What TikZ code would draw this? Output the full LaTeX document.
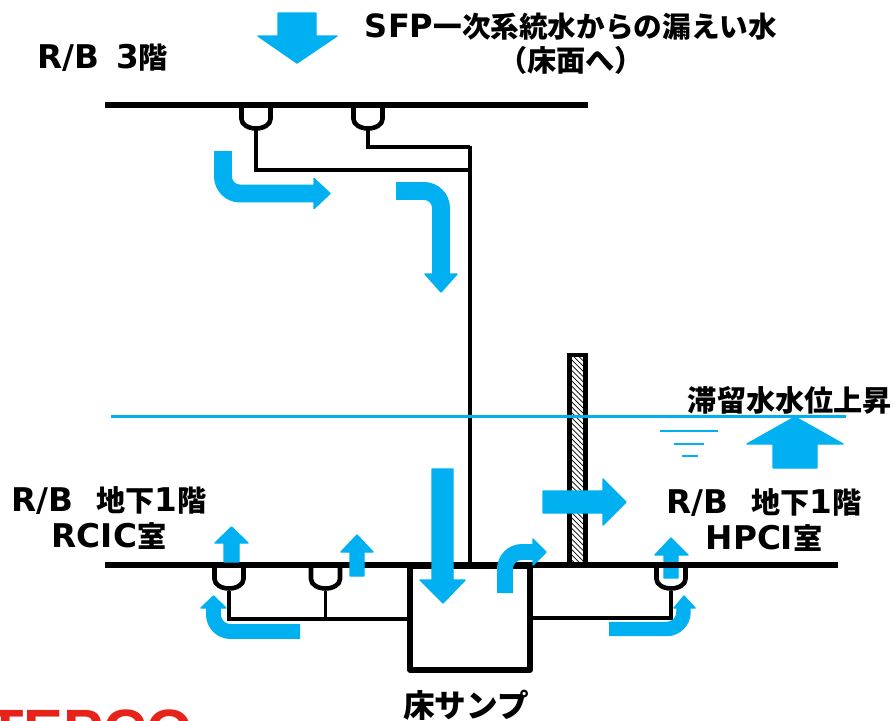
\documentclass[tikz,border=0pt]{standalone}
\usepackage{fontspec}
\setmainfont{DejaVu Sans}[Scale=1.12]
\newfontfamily\jafont{Noto Sans CJK JP}
\newfontfamily\logofont{Liberation Sans}
\usepackage{tikz}
\usetikzlibrary{patterns}
\definecolor{flowblue}{HTML}{00B0F0}
\definecolor{logored}{HTML}{E5231B}
\tikzset{
	floorline/.style={line width=3.4pt, color=black},
	pipeline/.style={line width=2pt, color=black},
	bowlline/.style={line width=2.6pt, color=black},
	waterline/.style={line width=1.7pt, color=flowblue},
	flowblock/.style={draw=flowblue, fill=flowblue, line width=0.8pt, line join=round},
	flowbend/.style={draw=flowblue, line width=#1*0.567pt, rounded corners=0.34cm},
	label/.style={font=\bfseries\fontsize{16.6}{20.4}\selectfont, align=center, inner sep=0pt},
}
\def\drainbowl(#1,#2){\draw[bowlline] ({#1-14.5},#2) -- ({#1-14.5},{#2+14}) arc (180:0:14.5 and 9.5) -- ({#1+14.5},#2);}
\begin{document}
\begin{tikzpicture}[x=0.02cm, y=-0.02cm]
	%%%%% START %%%%%
	\useasboundingbox (0, 0) rectangle (894, 721);

	% upper floor and its pipes
	\draw[floorline] (105, 105) -- (588, 105);
	\drainbowl(256, 105);
	\drainbowl(368, 105);
	\draw[pipeline] (256, 130) -- (256, 170) -- (470, 170);
	\draw[pipeline] (368, 130) -- (368, 147) -- (470, 147);
	\draw[pipeline] (470, 146) -- (470, 565);

	% wall
	\draw[line width=2.8pt, pattern=north west lines, pattern color=black] (577.5-8, 355) rectangle (577.5+8, 565);

	% arrow behind the floor
	\draw[flowblock] (664, 578) -- (664, 555) -- (655, 555) -- (671, 538) -- (688, 555) -- (678, 555) -- (678, 578) -- cycle;

	% lower floor, sump and pipes
	\draw[floorline] (105, 565) -- (838, 565);
	\draw[line width=3pt, line join=round] (410, 565) -- (410, 670) -- (530, 670) -- (530, 565);
	\draw[line width=3pt] (410, 566) -- (530, 566);
	\drainbowl(229, 565);
	\drainbowl(325.5, 565);
	\drainbowl(671, 565);
	\draw[pipeline] (229, 591) -- (229, 619) -- (410, 619);
	\draw[pipeline] (325.5, 591) -- (325.5, 619);
	\draw[pipeline] (530, 618) -- (671, 618) -- (671, 591);

	% water level
	\draw[waterline] (111, 416.5) -- (846, 416.5);
	\draw[line width=1.1pt, color=flowblue] (660, 431) -- (718, 431);
	\draw[line width=1.1pt, color=flowblue] (674, 444) -- (704, 444);
	\draw[line width=1.1pt, color=flowblue] (682, 456) -- (698, 456);

	% straight arrows
	\draw[flowblock] (278, 13) -- (278, 36) -- (258, 36) -- (297, 63) -- (337, 36) -- (316, 36) -- (316, 13) -- cycle;
	\draw[flowblock] (773, 468) -- (773, 444) -- (747, 444) -- (795, 417) -- (843, 444) -- (817, 444) -- (817, 468) -- cycle;
	\draw[flowblock] (432, 469) -- (432, 580) -- (420, 580) -- (443, 603) -- (465, 580) -- (453, 580) -- (453, 469) -- cycle;
	\draw[flowblock] (543, 491) -- (603, 491) -- (603, 479) -- (626, 502) -- (603, 525) -- (603, 513) -- (543, 513) -- cycle;
	\draw[flowblock] (224, 562) -- (224, 543) -- (215, 543) -- (231.5, 527) -- (248, 543) -- (239, 543) -- (239, 562) -- cycle;
	\draw[flowblock] (350, 576) -- (350, 552) -- (341, 552) -- (357, 535) -- (373, 552) -- (364, 552) -- (364, 576) -- cycle;

	% bent arrows
	\draw[flowbend=18] (223, 151) -- (223, 193.5) -- (314, 193.5);
	\draw[flowblock] (314, 178.5) -- (330, 193.5) -- (314, 208.5) -- cycle;
	\draw[flowbend=18] (396, 191) -- (441, 191) -- (441, 274);
	\draw[flowblock] (425, 274) -- (441, 292) -- (457, 274) -- cycle;
	\draw[flowbend=16] (505, 593) -- (505, 552) -- (533, 552);
	\draw[flowblock] (533, 539) -- (546, 552) -- (533, 565) -- cycle;
	\draw[flowbend=15] (300, 631.5) -- (213.5, 631.5) -- (213.5, 608);
	\draw[flowblock] (201, 608) -- (213.5, 596) -- (226, 608) -- cycle;
	\draw[flowbend=14.5] (609, 629) -- (683.5, 629) -- (683.5, 608);
	\draw[flowblock] (674, 608) -- (684, 596) -- (695, 608) -- cycle;

	% texts
	\node[label, anchor=west] (upperfloor) at (37, 58) {R/B\, 3{\jafont 階}};
	\node[label, font=\bfseries\fontsize{16.3}{20.4}\selectfont] (leaktext) at (571, 27) {SFP{\jafont 一次系統水からの漏えい水}};
	\node[label] (leakfloor) at (571, 60) {\jafont （床面へ）};
	\node[label] (waterrise) at (790, 400) {\jafont 滞留水水位上昇};
	\node[label] (rciclabel) at (109, 518) {R/B\,\, {\jafont 地下}1{\jafont 階}\\RCIC{\jafont 室}};
	\node[label] (hpcilabel) at (764, 520) {R/B\,\, {\jafont 地下}1{\jafont 階}\\HPCI{\jafont 室}};
	\node[label, font=\bfseries\fontsize{18}{20.4}\selectfont] (sumplabel) at (466, 705) {\jafont 床サンプ};

	% logo cut off by the page edge
	\begin{scope}
		\clip (0, 700) rectangle (894, 721);
		\node[anchor=north west, inner sep=0pt, color=logored, font=\logofont\bfseries\fontsize{34}{34}\selectfont] (logo) at (-13, 709) {TEPCO};
	\end{scope}
	%%%%% END %%%%%
\end{tikzpicture}
\end{document}
